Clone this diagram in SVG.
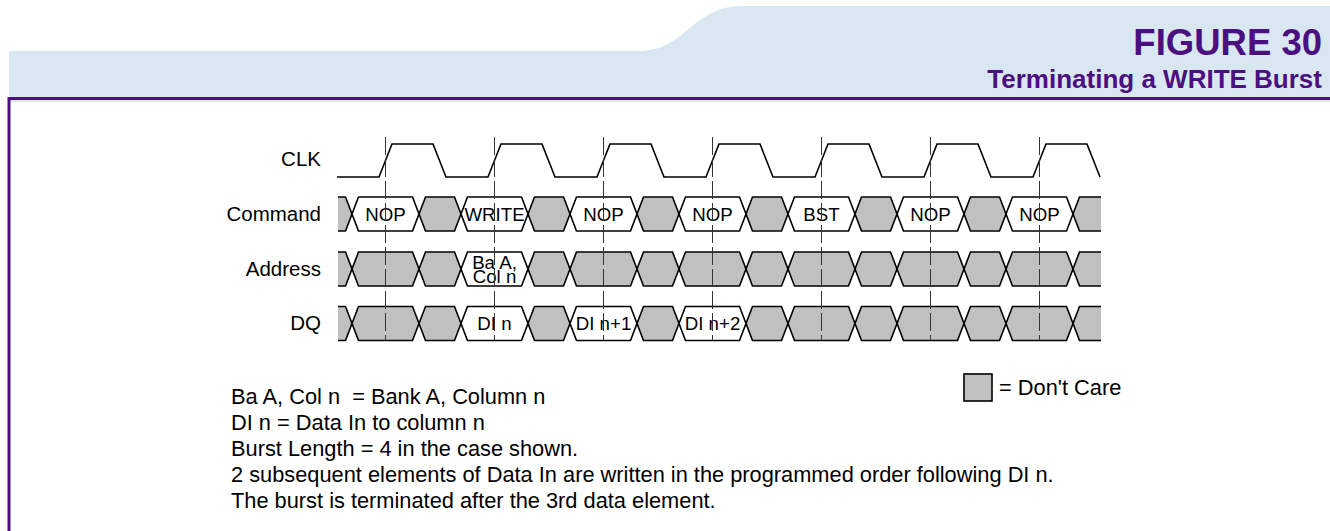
<svg xmlns="http://www.w3.org/2000/svg" xmlns:xlink="http://www.w3.org/1999/xlink" width="1330" height="531" viewBox="0 0 1330 531">
<style>
text{font-family:"Liberation Sans",Arial,sans-serif;fill:#000}
.lbl{font-size:20.5px;text-anchor:end}
.cell{font-size:18.7px;text-anchor:middle}
.note{font-size:21.8px}
.hd{font-weight:bold;fill:#4b0f7f;text-anchor:end}
.wf{fill:none;stroke:#000;stroke-width:1.6;stroke-linejoin:miter}
.g{fill:#c0c0c0}
.w{fill:#fff}
.dash{stroke:#333;stroke-width:1;stroke-dasharray:18 4;fill:none}
</style>
<defs>
<polygon id="wide" points="0,17 6.5,0 60.5,0 67,17 60.5,34 6.5,34" stroke="#000" stroke-width="1.6"/>
<polygon id="narrow" points="0,17 6.5,0 35.5,0 42,17 35.5,34 6.5,34" stroke="#000" stroke-width="1.6"/>
</defs>
<g id="header">
<path d="M9,51 H640 C670,51 685,30 700,20 S725,6 745,6 H1330 V102 H9 Z" fill="#d9e8f0"/>
<path d="M1330,98.5 H9 V531" fill="none" stroke="#4b0f7f" stroke-width="3"/>
<text class="hd" x="1322" y="55" font-size="36.5">FIGURE 30</text>
<text class="hd" x="1322" y="88" font-size="26">Terminating a WRITE Burst</text>
</g>
<g id="labels">
<text class="lbl" x="321" y="166">CLK</text>
<text class="lbl" x="321" y="221">Command</text>
<text class="lbl" x="321" y="276">Address</text>
<text class="lbl" x="321" y="330">DQ</text>
</g>
<g id="clk">
<path class="wf" d="M337,177 L379,177 L392,144 L433,144 L446,177 L488,177 L501,144 L542,144 L555,177 L597,177 L610,144 L651,144 L664,177 L706,177 L719,144 L760,144 L773,177 L815,177 L828,144 L869,144 L882,177 L924,177 L937,144 L978,144 L991,177 L1033,177 L1046,144 L1087,144 L1100,177"/>
</g>
<g id="command">
<path class="g" d="M338,197 H345.5 L352,214 L345.5,231 H338 Z"/>
<path class="wf" d="M338,197 H345.5 L352,214 L345.5,231 H338"/>
<use xlink:href="#wide" x="352" y="197" class="w"/>
<use xlink:href="#narrow" x="419" y="197" class="g"/>
<use xlink:href="#wide" x="461" y="197" class="w"/>
<use xlink:href="#narrow" x="528" y="197" class="g"/>
<use xlink:href="#wide" x="570" y="197" class="w"/>
<use xlink:href="#narrow" x="637" y="197" class="g"/>
<use xlink:href="#wide" x="679" y="197" class="w"/>
<use xlink:href="#narrow" x="746" y="197" class="g"/>
<use xlink:href="#wide" x="788" y="197" class="w"/>
<use xlink:href="#narrow" x="855" y="197" class="g"/>
<use xlink:href="#wide" x="897" y="197" class="w"/>
<use xlink:href="#narrow" x="964" y="197" class="g"/>
<use xlink:href="#wide" x="1006" y="197" class="w"/>
<path class="g" d="M1101,197 H1079.5 L1073,214 L1079.5,231 H1101 Z"/>
<path class="wf" d="M1101,197 H1079.5 L1073,214 L1079.5,231 H1101"/>
<text class="cell" x="385.5" y="221">NOP</text>
<text class="cell" x="494.5" y="221">WRITE</text>
<text class="cell" x="603.5" y="221">NOP</text>
<text class="cell" x="712.5" y="221">NOP</text>
<text class="cell" x="821.5" y="221">BST</text>
<text class="cell" x="930.5" y="221">NOP</text>
<text class="cell" x="1039.5" y="221">NOP</text>
</g>
<g id="address">
<path class="g" d="M338,252 H345.5 L352,269 L345.5,286 H338 Z"/>
<path class="wf" d="M338,252 H345.5 L352,269 L345.5,286 H338"/>
<use xlink:href="#wide" x="352" y="252" class="g"/>
<use xlink:href="#narrow" x="419" y="252" class="g"/>
<use xlink:href="#wide" x="461" y="252" class="w"/>
<use xlink:href="#narrow" x="528" y="252" class="g"/>
<use xlink:href="#wide" x="570" y="252" class="g"/>
<use xlink:href="#narrow" x="637" y="252" class="g"/>
<use xlink:href="#wide" x="679" y="252" class="g"/>
<use xlink:href="#narrow" x="746" y="252" class="g"/>
<use xlink:href="#wide" x="788" y="252" class="g"/>
<use xlink:href="#narrow" x="855" y="252" class="g"/>
<use xlink:href="#wide" x="897" y="252" class="g"/>
<use xlink:href="#narrow" x="964" y="252" class="g"/>
<use xlink:href="#wide" x="1006" y="252" class="g"/>
<path class="g" d="M1101,252 H1079.5 L1073,269 L1079.5,286 H1101 Z"/>
<path class="wf" d="M1101,252 H1079.5 L1073,269 L1079.5,286 H1101"/>
<text class="cell" x="494.5" y="268.5">Ba A,</text>
<text class="cell" x="494.5" y="283">Col n</text>
</g>
<g id="dq">
<path class="g" d="M338,306.5 H345.5 L352,323.5 L345.5,340.5 H338 Z"/>
<path class="wf" d="M338,306.5 H345.5 L352,323.5 L345.5,340.5 H338"/>
<use xlink:href="#wide" x="352" y="306.5" class="g"/>
<use xlink:href="#narrow" x="419" y="306.5" class="g"/>
<use xlink:href="#wide" x="461" y="306.5" class="w"/>
<use xlink:href="#narrow" x="528" y="306.5" class="g"/>
<use xlink:href="#wide" x="570" y="306.5" class="w"/>
<use xlink:href="#narrow" x="637" y="306.5" class="g"/>
<use xlink:href="#wide" x="679" y="306.5" class="w"/>
<use xlink:href="#narrow" x="746" y="306.5" class="g"/>
<use xlink:href="#wide" x="788" y="306.5" class="g"/>
<use xlink:href="#narrow" x="855" y="306.5" class="g"/>
<use xlink:href="#wide" x="897" y="306.5" class="g"/>
<use xlink:href="#narrow" x="964" y="306.5" class="g"/>
<use xlink:href="#wide" x="1006" y="306.5" class="g"/>
<path class="g" d="M1101,306.5 H1079.5 L1073,323.5 L1079.5,340.5 H1101 Z"/>
<path class="wf" d="M1101,306.5 H1079.5 L1073,323.5 L1079.5,340.5 H1101"/>
<text class="cell" x="494.5" y="330">DI n</text>
<text class="cell" x="603.5" y="330">DI n+1</text>
<text class="cell" x="712.5" y="330">DI n+2</text>
</g>
<g id="edges">
<path class="dash" d="M385.5,137 V340 M494.5,137 V340 M603.5,137 V340 M712.5,137 V340 M821.5,137 V340 M930.5,137 V340 M1039.5,137 V340"/>
</g>
<g id="legend">
<rect x="964" y="374" width="28" height="27" fill="#c0c0c0" stroke="#000" stroke-width="1.6"/>
<text class="note" x="999" y="395">= Don't Care</text>
</g>
<g id="notes">
<text class="note" x="231" y="404" xml:space="preserve">Ba A, Col n  = Bank A, Column n</text>
<text class="note" x="231" y="430">DI n = Data In to column n</text>
<text class="note" x="231" y="456">Burst Length = 4 in the case shown.</text>
<text class="note" x="231" y="482">2 subsequent elements of Data In are written in the programmed order following DI n.</text>
<text class="note" x="231" y="508">The burst is terminated after the 3rd data element.</text>
</g>
</svg>
